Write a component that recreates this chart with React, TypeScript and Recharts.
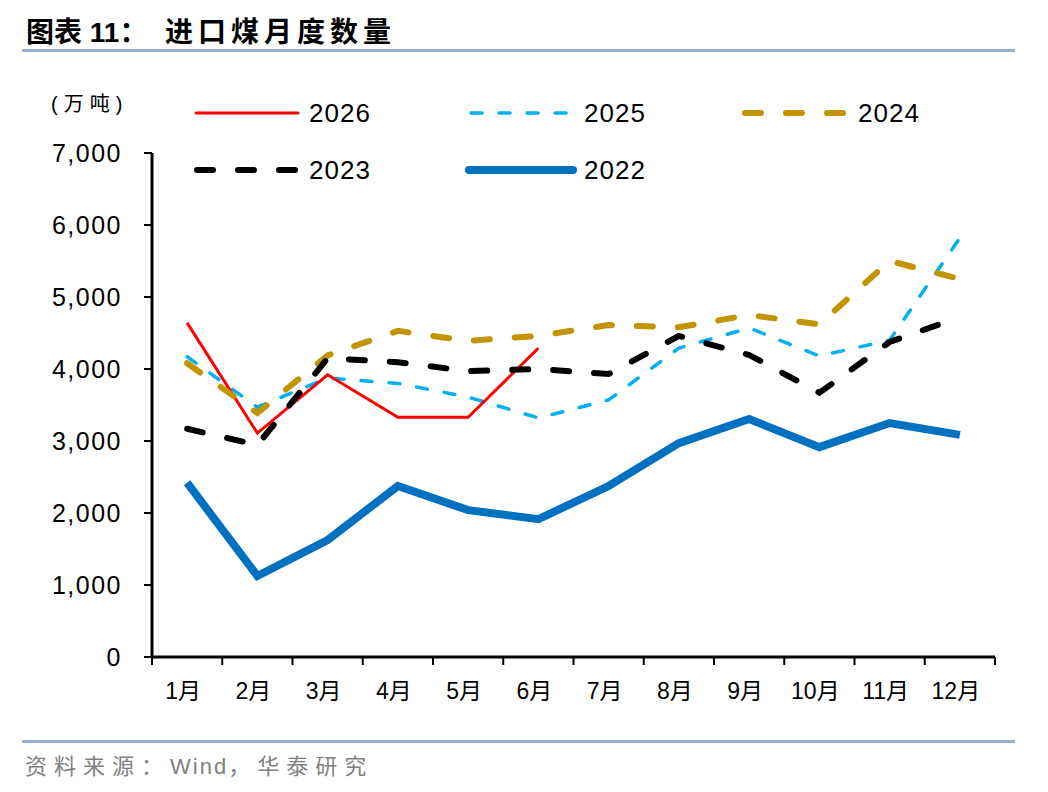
import { LineChart, Line, XAxis, YAxis } from 'recharts';

const monthIndex = [1, 2, 3, 4, 5, 6, 7, 8, 9, 10, 11, 12];
const monthLabels = ['1月', '2月', '3月', '4月', '5月', '6月', '7月', '8月', '9月', '10月', '11月', '12月'];
const boundaryTicks = [0.5, 1.5, 2.5, 3.5, 4.5, 5.5, 6.5, 7.5, 8.5, 9.5, 10.5, 11.5, 12.5];
const yTicks = [0, 1000, 2000, 3000, 4000, 5000, 6000, 7000];

const v2026 = [4640, 3110, 3920, 3330, 3330, 4290];
const v2025 = [4170, 3470, 3875, 3800, 3610, 3320, 3570, 4290, 4570, 4180, 4400, 5820];
const v2024 = [4080, 3390, 4190, 4530, 4390, 4460, 4610, 4580, 4750, 4620, 5500, 5250];
const v2023 = [3170, 2945, 4150, 4095, 3970, 4000, 3930, 4460, 4195, 3670, 4375, 4720];
const v2022 = [2420, 1125, 1625, 2375, 2040, 1915, 2375, 2970, 3305, 2915, 3250, 3085];

const data = monthIndex.map((m, i) => ({
  m,
  y2026: v2026[i],
  y2025: v2025[i],
  y2024: v2024[i],
  y2023: v2023[i],
  y2022: v2022[i],
}));

interface SeriesDef {
  key: string;
  name: string;
  color: string;
  width: number;
  dash?: string;
}

const S2026: SeriesDef = { key: 'y2026', name: '2026', color: '#FF0000', width: 3 };
const S2025: SeriesDef = { key: 'y2025', name: '2025', color: '#00B0F0', width: 3.5, dash: '11 17' };
const S2024: SeriesDef = { key: 'y2024', name: '2024', color: '#C29400', width: 6, dash: '16 25' };
const S2023: SeriesDef = { key: 'y2023', name: '2023', color: '#000000', width: 6, dash: '16 25' };
const S2022: SeriesDef = { key: 'y2022', name: '2022', color: '#0070C0', width: 8 };

// draw order: bottom first
const drawOrder = [S2022, S2025, S2026, S2024, S2023];

const legendRows: { s: SeriesDef; x1: number; x2: number; tx: number; y: number }[] = [
  { s: S2026, x1: 196, x2: 298, tx: 309, y: 113 },
  { s: S2025, x1: 471, x2: 567, tx: 584, y: 113 },
  { s: S2024, x1: 745, x2: 849, tx: 858, y: 113 },
  { s: S2023, x1: 197, x2: 297, tx: 309, y: 170 },
  { s: S2022, x1: 469, x2: 573, tx: 584, y: 170 },
];

const fontLatin = '"Liberation Sans", Arial, sans-serif';
const fontCjk = '"Liberation Sans", "Noto Sans CJK SC", sans-serif';

export default function App() {
  return (
    <div style={{ position: 'absolute', left: 0, top: 0, width: 1048, height: 792, background: '#fff' }}>
      <div
        style={{
          position: 'absolute',
          left: 26,
          top: 10,
          fontFamily: fontCjk,
          fontWeight: 700,
          fontSize: 28,
          color: '#000',
          whiteSpace: 'pre',
        }}
      >
        图表 11：
      </div>
      <div
        style={{
          position: 'absolute',
          left: 165,
          top: 10,
          fontFamily: fontCjk,
          fontWeight: 700,
          fontSize: 28,
          letterSpacing: 5,
          color: '#000',
          whiteSpace: 'pre',
        }}
      >
        进口煤月度数量
      </div>
      <div style={{ position: 'absolute', left: 22, top: 49, width: 993, height: 3, background: '#9AAFC7' }} />

      <LineChart
        width={1048}
        height={792}
        data={data}
        margin={{ top: 153, right: 53, left: 72, bottom: 83 }}
        style={{ position: 'absolute', left: 0, top: 0 }}
      >
        <XAxis
          dataKey="m"
          type="number"
          domain={[0.5, 12.5]}
          allowDataOverflow
          ticks={boundaryTicks}
          tickFormatter={() => ''}
          height={12}
          tickSize={8}
          axisLine={{ stroke: '#000', strokeWidth: 3 }}
          tickLine={{ stroke: '#000', strokeWidth: 2 }}
          interval={0}
        />
        <XAxis
          xAxisId="labels"
          dataKey="m"
          type="number"
          domain={[0.5, 12.5]}
          allowDataOverflow
          ticks={monthIndex}
          tickFormatter={(v: number) => monthLabels[v - 1]}
          height={40}
          axisLine={false}
          tickLine={false}
          tickSize={0}
          tickMargin={14}
          interval={0}
          tick={{ fontSize: 23, fill: '#000', fontFamily: fontCjk, dx: -4 }}
        />
        <YAxis
          domain={[0, 7000]}
          ticks={yTicks}
          width={80}
          tickSize={8}
          tickMargin={22}
          interval={0}
          tickFormatter={(v: number) => v.toLocaleString('en-US')}
          axisLine={{ stroke: '#000', strokeWidth: 3 }}
          tickLine={{ stroke: '#000', strokeWidth: 2 }}
          tick={{ fontSize: 25, fill: '#000', fontFamily: fontLatin, letterSpacing: 1.5 }}
        />
        {drawOrder.map(s => (
          <Line
            key={s.key}
            dataKey={s.key}
            name={s.name}
            type="linear"
            stroke={s.color}
            strokeWidth={s.width}
            strokeDasharray={s.dash}
            strokeLinecap={s.dash ? 'round' : 'butt'}
            strokeLinejoin="miter"
            dot={false}
            activeDot={false}
            isAnimationActive={false}
          />
        ))}
      </LineChart>

      <svg width={1048} height={200} style={{ position: 'absolute', left: 0, top: 0, pointerEvents: 'none' }}>
        {legendRows.map(r => (
          <g key={r.s.key}>
            <line
              x1={r.x1}
              x2={r.x2}
              y1={r.y}
              y2={r.y}
              stroke={r.s.color}
              strokeWidth={r.s.width}
              strokeDasharray={r.s.dash}
              strokeLinecap="round"
            />
            <text x={r.tx} y={r.y + 9} fontSize={26} letterSpacing={1} fontFamily={fontLatin} fill="#000">
              {r.s.name}
            </text>
          </g>
        ))}
        <text x={51} y={111} fontSize={20} letterSpacing={6} fontFamily={fontCjk} fill="#000">
          (万吨)
        </text>
      </svg>

      <div style={{ position: 'absolute', left: 22, top: 740, width: 993, height: 3, background: '#9AAFC7' }} />
      <div
        style={{
          position: 'absolute',
          left: 25,
          top: 748,
          fontFamily: fontCjk,
          fontSize: 22,
          color: '#808080',
          whiteSpace: 'pre',
        }}
      >
        <span style={{ letterSpacing: 7 }}>资料来源：</span>
        <span style={{ letterSpacing: 2 }}>Wind</span>
        <span style={{ letterSpacing: 7 }}>，华泰研究</span>
      </div>
    </div>
  );
}
